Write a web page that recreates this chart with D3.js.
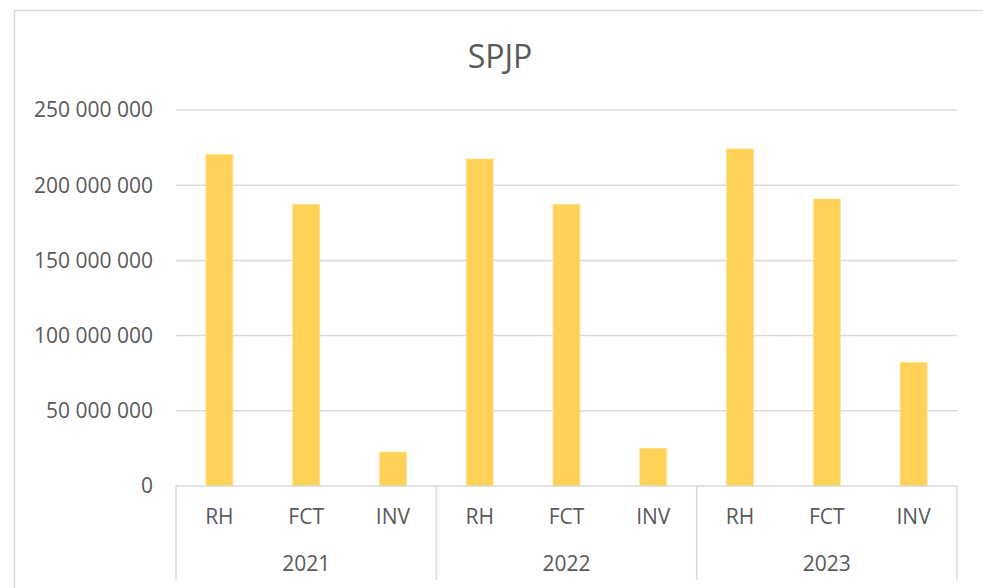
<!DOCTYPE html>
<html>
<head>
<meta charset="utf-8">
<script src="https://cdn.jsdelivr.net/npm/d3@7"></script>
<style>
  body { margin: 0; background: #fff; }
  text { font-family: "Open Sans", sans-serif; fill: #595959; }
</style>
</head>
<body>
<svg id="chart" width="983" height="588"></svg>
<script>
var width = 983,
    height = 588;

var title = 'SPJP'
var years = ['2021', '2022', '2023']
var categories = ['RH', 'FCT', 'INV']
var values2021 = [220500000, 187300000, 22600000]
var values2022 = [217400000, 187300000, 25100000]
var values2023 = [224100000, 190800000, 82200000]
var yTicks = [0, 50000000, 100000000, 150000000, 200000000, 250000000]

var rows = [values2021, values2022, values2023]
var data = []
years.forEach(function (y, i) {
    categories.forEach(function (c, j) {
        data.push({ year: y, cat: c, value: rows[i][j] })
    })
})

var margin = { left: 176, right: 26, top: 110, bottom: 102 }

var svg = d3.select('#chart')

// outer chart border (right/bottom edges fall outside the picture)
svg.append('rect')
    .attr('x', 14.5).attr('y', 10.5)
    .attr('width', 1000).attr('height', 700)
    .attr('fill', '#fff')
    .attr('stroke', '#d9d9d9')
    .attr('stroke-width', 1.5)

var x0 = d3.scaleBand()
    .domain(years)
    .range([margin.left, width - margin.right])
    .padding(0)

var x1 = d3.scaleBand()
    .domain(categories)
    .range([0, x0.bandwidth()])
    .paddingInner(0.69)
    .paddingOuter(0.345)

var y = d3.scaleLinear()
    .domain([0, 250000000])
    .range([height - margin.bottom, margin.top])

var fmt = function (d) {
    return d3.format(',')(d).replace(/,/g, ' ')
}

// gridlines
svg.append('g')
    .selectAll('line')
    .data(yTicks.slice(1))
    .enter()
    .append('line')
    .attr('x1', margin.left)
    .attr('x2', width - margin.right)
    .attr('y1', d => y(d))
    .attr('y2', d => y(d))
    .attr('stroke', '#d9d9d9')
    .attr('stroke-width', 1.5)

// y labels
svg.append('g')
    .selectAll('text')
    .data(yTicks)
    .enter()
    .append('text')
    .attr('x', 153)
    .attr('y', d => y(d))
    .attr('dy', '0.35em')
    .attr('text-anchor', 'end')
    .attr('font-size', 21)
    .text(fmt)

// bars
svg.append('g')
    .selectAll('rect')
    .data(data)
    .enter()
    .append('rect')
    .attr('x', d => x0(d.year) + x1(d.cat))
    .attr('width', x1.bandwidth())
    .attr('y', d => y(d.value))
    .attr('height', d => y(0) - y(d.value))
    .attr('fill', '#ffd156')
    .attr('stroke', '#ffe08a')
    .attr('stroke-width', 0.8)

// category axis
var base = y(0)
svg.append('line')
    .attr('x1', margin.left).attr('x2', width - margin.right)
    .attr('y1', base).attr('y2', base)
    .attr('stroke', '#d9d9d9')
    .attr('stroke-width', 1.5)

var seps = years.map(d => x0(d)).concat([x0.range()[1]])
svg.append('g')
    .selectAll('line')
    .data(seps)
    .enter()
    .append('line')
    .attr('x1', d => d).attr('x2', d => d)
    .attr('y1', base).attr('y2', 580)
    .attr('stroke', '#d9d9d9')
    .attr('stroke-width', 1.5)

svg.append('g')
    .selectAll('text')
    .data(data)
    .enter()
    .append('text')
    .attr('x', d => x0(d.year) + x1(d.cat) + x1.bandwidth() / 2)
    .attr('y', 517)
    .attr('dy', '0.35em')
    .attr('text-anchor', 'middle')
    .attr('font-size', 21)
    .text(d => d.cat)

svg.append('g')
    .selectAll('text')
    .data(years)
    .enter()
    .append('text')
    .attr('x', d => x0(d) + x0.bandwidth() / 2)
    .attr('y', 564)
    .attr('dy', '0.35em')
    .attr('text-anchor', 'middle')
    .attr('font-size', 21)
    .text(d => d)

svg.append('text')
    .attr('x', 500)
    .attr('y', 57)
    .attr('dy', '0.35em')
    .attr('text-anchor', 'middle')
    .attr('font-size', 32)
    .text(title)
</script>
</body>
</html>
